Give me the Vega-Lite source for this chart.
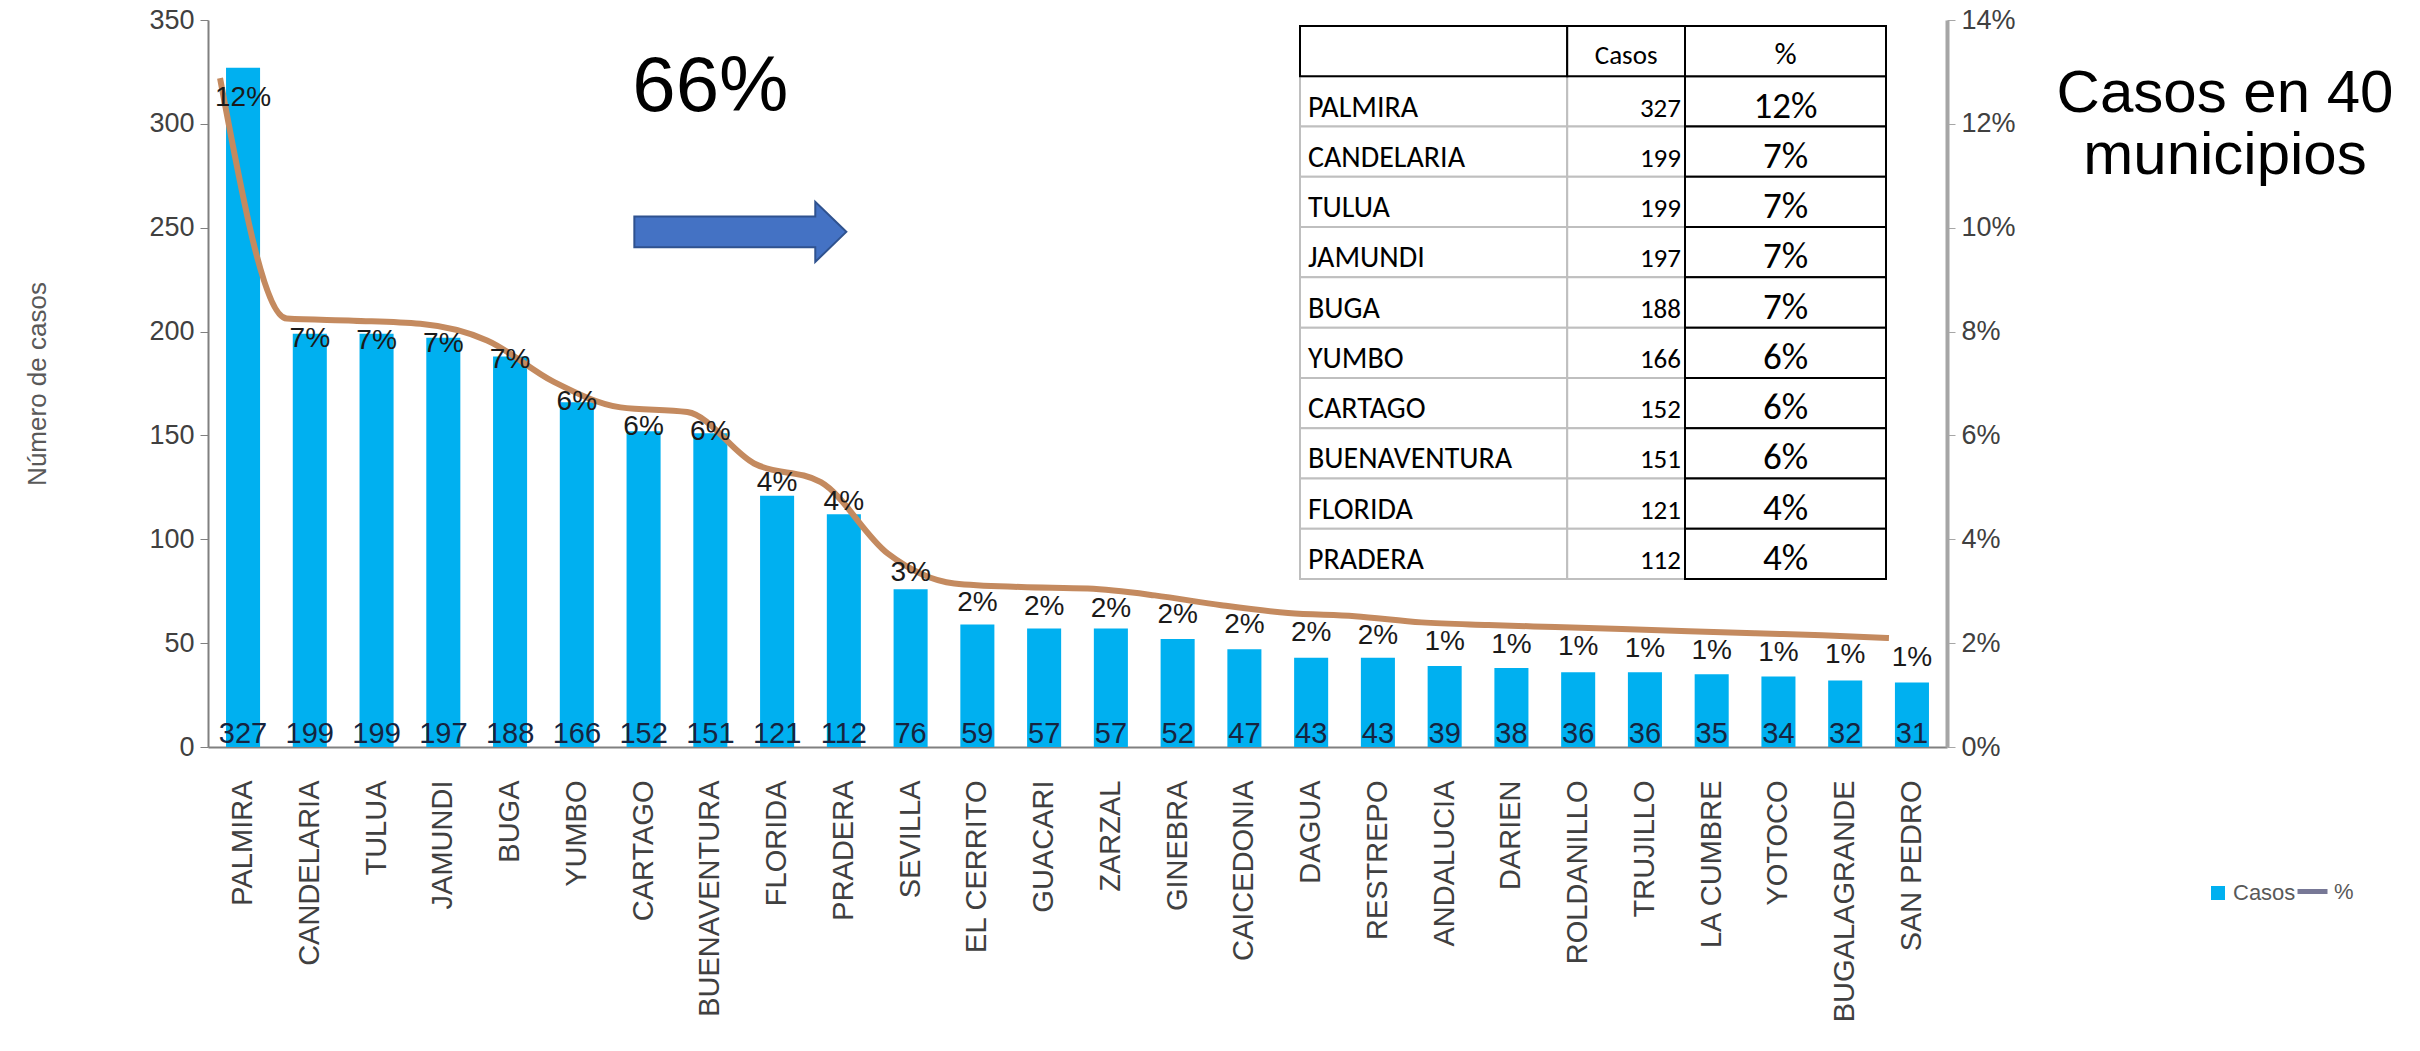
{
  "$schema": "https://vega.github.io/schema/vega-lite/v6.json",
  "width": 1739,
  "height": 727,
  "autosize": "none",
  "padding": {"left": 208, "top": 20, "right": 473, "bottom": 304},
  "background": "#ffffff",
  "config": {
    "view": {"stroke": null},
    "font": "Liberation Sans",
    "axis": {"grid": false},
    "legend": {"labelFont": "Liberation Sans"}
  },
  "title": {
    "text": ["Casos en 40", "municipios"],
    "anchor": "end",
    "frame": "group",
    "align": "center",
    "baseline": "top",
    "dx": 278,
    "dy": 181,
    "offset": 0,
    "fontSize": 60,
    "fontWeight": "normal",
    "font": "Liberation Sans",
    "lineHeight": 62,
    "color": "#000000"
  },
  "datasets": {
    "muni": [
      {"municipio": "PALMIRA", "casos": 327, "pct": 0.12, "linea": 0.1288},
      {"municipio": "CANDELARIA", "casos": 199, "pct": 0.07, "linea": 0.0825},
      {"municipio": "TULUA", "casos": 199, "pct": 0.07, "linea": 0.0821},
      {"municipio": "JAMUNDI", "casos": 197, "pct": 0.07, "linea": 0.0815},
      {"municipio": "BUGA", "casos": 188, "pct": 0.07, "linea": 0.0783},
      {"municipio": "YUMBO", "casos": 166, "pct": 0.06, "linea": 0.0703},
      {"municipio": "CARTAGO", "casos": 152, "pct": 0.06, "linea": 0.0654},
      {"municipio": "BUENAVENTURA", "casos": 151, "pct": 0.06, "linea": 0.0645},
      {"municipio": "FLORIDA", "casos": 121, "pct": 0.04, "linea": 0.0546},
      {"municipio": "PRADERA", "casos": 112, "pct": 0.04, "linea": 0.051},
      {"municipio": "SEVILLA", "casos": 76, "pct": 0.03, "linea": 0.0373},
      {"municipio": "EL CERRITO", "casos": 59, "pct": 0.02, "linea": 0.0315},
      {"municipio": "GUACARI", "casos": 57, "pct": 0.02, "linea": 0.0308},
      {"municipio": "ZARZAL", "casos": 57, "pct": 0.02, "linea": 0.0305},
      {"municipio": "GINEBRA", "casos": 52, "pct": 0.02, "linea": 0.0292},
      {"municipio": "CAICEDONIA", "casos": 47, "pct": 0.02, "linea": 0.0273},
      {"municipio": "DAGUA", "casos": 43, "pct": 0.02, "linea": 0.0258},
      {"municipio": "RESTREPO", "casos": 43, "pct": 0.02, "linea": 0.0252},
      {"municipio": "ANDALUCIA", "casos": 39, "pct": 0.01, "linea": 0.024},
      {"municipio": "DARIEN", "casos": 38, "pct": 0.01, "linea": 0.0235},
      {"municipio": "ROLDANILLO", "casos": 36, "pct": 0.01, "linea": 0.0231},
      {"municipio": "TRUJILLO", "casos": 36, "pct": 0.01, "linea": 0.0227},
      {"municipio": "LA CUMBRE", "casos": 35, "pct": 0.01, "linea": 0.0223},
      {"municipio": "YOTOCO", "casos": 34, "pct": 0.01, "linea": 0.0219},
      {"municipio": "BUGALAGRANDE", "casos": 32, "pct": 0.01, "linea": 0.0215},
      {"municipio": "SAN PEDRO", "casos": 31, "pct": 0.01, "linea": 0.021}
    ],
    "tabla": [
      {"municipio": "PALMIRA", "casos": 327, "pct": 0.12},
      {"municipio": "CANDELARIA", "casos": 199, "pct": 0.07},
      {"municipio": "TULUA", "casos": 199, "pct": 0.07},
      {"municipio": "JAMUNDI", "casos": 197, "pct": 0.07},
      {"municipio": "BUGA", "casos": 188, "pct": 0.07},
      {"municipio": "YUMBO", "casos": 166, "pct": 0.06},
      {"municipio": "CARTAGO", "casos": 152, "pct": 0.06},
      {"municipio": "BUENAVENTURA", "casos": 151, "pct": 0.06},
      {"municipio": "FLORIDA", "casos": 121, "pct": 0.04},
      {"municipio": "PRADERA", "casos": 112, "pct": 0.04}
    ]
  },
  "layer": [
    {
      "layer": [
        {
          "data": {"name": "muni"},
          "layer": [
            {
              "mark": {"type": "bar"},
              "encoding": {
                "x": {
                  "field": "municipio", "type": "nominal", "sort": null, "title": null,
                  "scale": {
                    "domain": ["PALMIRA","CANDELARIA","TULUA","JAMUNDI","BUGA","YUMBO","CARTAGO","BUENAVENTURA","FLORIDA","PRADERA","SEVILLA","EL CERRITO","GUACARI","ZARZAL","GINEBRA","CAICEDONIA","DAGUA","RESTREPO","ANDALUCIA","DARIEN","ROLDANILLO","TRUJILLO","LA CUMBRE","YOTOCO","BUGALAGRANDE","SAN PEDRO"],
                    "paddingInner": 0.49, "paddingOuter": 0.27
                  },
                  "axis": {
                    "labelAngle": -90, "labelFontSize": 29, "labelColor": "#404040",
                    "labelPadding": 33, "labelLimit": 0, "ticks": false, "domainColor": "#808080", "domainWidth": 2,
                    "labelFont": "Liberation Sans"
                  }
                },
                "y": {
                  "field": "casos", "type": "quantitative",
                  "scale": {"domain": [0, 350], "nice": false},
                  "axis": {
                    "values": [0, 50, 100, 150, 200, 250, 300, 350],
                    "title": "Número de casos", "titleFontSize": 26, "titleFontWeight": "normal",
                    "titleColor": "#595959", "titlePadding": 98, "titleFont": "Liberation Sans",
                    "labelFontSize": 27, "labelColor": "#404040", "labelPadding": 6,
                    "tickSize": 8, "tickColor": "#808080", "domainColor": "#808080", "domainWidth": 2
                  }
                },
                "fill": {
                  "datum": "Casos",
                  "scale": {"range": ["#00B0F0"]},
                  "legend": {
                    "orient": "none", "legendX": 1999, "legendY": 862, "title": null,
                    "symbolType": "square", "symbolSize": 196, "symbolStrokeWidth": 0,
                    "labelFontSize": 22, "labelColor": "#595959"
                  }
                }
              }
            },
            {
              "mark": {"type": "text", "baseline": "alphabetic", "dy": -4, "fontSize": 29, "color": "#16243F"},
              "encoding": {
                "x": {"field": "municipio", "type": "nominal", "sort": null},
                "y": {"datum": 0, "type": "quantitative"},
                "text": {"field": "casos", "type": "quantitative"}
              }
            },
            {
              "data": {"values": [{}]},
              "mark": {"type": "text", "fontSize": 78, "baseline": "alphabetic", "align": "center", "color": "#000000"},
              "encoding": {
                "x": {"datum": "BUENAVENTURA", "type": "nominal"},
                "y": {"datum": 306, "type": "quantitative"},
                "text": {"value": "66%"}
              }
            },
            {
              "data": {"values": [{}]},
              "mark": {
                "type": "point",
                "shape": "M-0.717,-0.146 L0.99,-0.146 L0.99,-0.283 L1.283,0 L0.99,0.283 L0.99,0.146 L-0.717,0.146 Z",
                "size": 44944, "filled": true, "fill": "#4472C4", "stroke": "#2F528F", "strokeWidth": 2, "opacity": 1
              },
              "encoding": {
                "x": {"datum": "BUENAVENTURA", "type": "nominal"},
                "y": {"datum": 248, "type": "quantitative"}
              }
            }
          ]
        },
        {
          "data": {"name": "muni"},
          "layer": [
            {
              "mark": {"type": "line", "stroke": "#C48A5F", "strokeWidth": 6, "interpolate": "monotone", "xOffset": -23},
              "encoding": {
                "x": {"field": "municipio", "type": "nominal", "sort": null},
                "y": {
                  "field": "linea", "type": "quantitative",
                  "scale": {"domain": [0, 0.14], "nice": false},
                  "axis": {
                    "orient": "right", "format": ".0%", "title": null,
                    "values": [0, 0.02, 0.04, 0.06, 0.08, 0.1, 0.12, 0.14],
                    "labelFontSize": 27, "labelColor": "#404040", "labelPadding": 6,
                    "tickSize": 8, "tickColor": "#A6A6A6", "domainColor": "#A6A6A6", "domainWidth": 4
                  }
                },
                "color": {
                  "datum": "%",
                  "scale": {"range": ["#777896"]},
                  "legend": {
                    "orient": "none", "legendX": 2087, "legendY": 854, "title": null,
                    "symbolType": "stroke", "symbolSize": 900, "symbolStrokeWidth": 5,
                    "labelFontSize": 22, "labelColor": "#595959"
                  }
                }
              }
            },
            {
              "mark": {"type": "text", "baseline": "middle", "dy": 20, "fontSize": 28, "color": "#1A1A1A"},
              "encoding": {
                "x": {"field": "municipio", "type": "nominal", "sort": null},
                "y": {"field": "linea", "type": "quantitative"},
                "text": {"field": "pct", "type": "quantitative", "format": ".0%"}
              }
            }
          ]
        }
      ],
      "resolve": {"scale": {"y": "independent"}}
    },
    {
      "layer": [
        {
          "data": {"name": "tabla"},
          "mark": {"type": "rect", "fill": "#ffffff", "stroke": "#BFBFBF", "strokeWidth": 2},
          "encoding": {
            "x": {"datum": 0, "type": "quantitative", "scale": {"domain": [0, 1], "range": [1092, 1678]}, "axis": null},
            "x2": {"datum": 0.456},
            "y": {
              "field": "municipio", "type": "nominal", "axis": null,
              "scale": {
                "domain": ["encabezado","PALMIRA","CANDELARIA","TULUA","JAMUNDI","BUGA","YUMBO","CARTAGO","BUENAVENTURA","FLORIDA","PRADERA"],
                "range": [6, 559], "paddingInner": 0, "paddingOuter": 0
              }
            }
          }
        },
        {
          "data": {"name": "tabla"},
          "mark": {"type": "rect", "fill": "#ffffff", "stroke": "#BFBFBF", "strokeWidth": 2},
          "encoding": {
            "x": {"datum": 0.456, "type": "quantitative"},
            "x2": {"datum": 0.657},
            "y": {"field": "municipio", "type": "nominal"}
          }
        },
        {
          "data": {"name": "tabla"},
          "mark": {"type": "rect", "fill": "#ffffff", "stroke": "#000000", "strokeWidth": 2},
          "encoding": {
            "x": {"datum": 0.657, "type": "quantitative"},
            "x2": {"datum": 1},
            "y": {"field": "municipio", "type": "nominal"}
          }
        },
        {
          "data": {"values": [{}]},
          "mark": {"type": "rect", "fill": "#ffffff", "stroke": "#000000", "strokeWidth": 2},
          "encoding": {
            "x": {"datum": 0, "type": "quantitative"},
            "x2": {"datum": 0.456},
            "y": {"datum": "encabezado", "type": "nominal"}
          }
        },
        {
          "data": {"values": [{}]},
          "mark": {"type": "rect", "fill": "#ffffff", "stroke": "#000000", "strokeWidth": 2},
          "encoding": {
            "x": {"datum": 0.456, "type": "quantitative"},
            "x2": {"datum": 0.657},
            "y": {"datum": "encabezado", "type": "nominal"}
          }
        },
        {
          "data": {"values": [{}]},
          "mark": {"type": "rect", "fill": "#ffffff", "stroke": "#000000", "strokeWidth": 2},
          "encoding": {
            "x": {"datum": 0.657, "type": "quantitative"},
            "x2": {"datum": 1},
            "y": {"datum": "encabezado", "type": "nominal"}
          }
        },
        {
          "data": {"name": "tabla"},
          "mark": {"type": "text", "align": "left", "baseline": "alphabetic", "dx": 8, "dy": -10, "fontSize": 30, "font": "Carlito, Lato, sans-serif", "color": "#000000"},
          "encoding": {
            "x": {"datum": 0, "type": "quantitative"},
            "y": {"field": "municipio", "type": "nominal", "bandPosition": 1},
            "text": {"field": "municipio", "type": "nominal"}
          }
        },
        {
          "data": {"name": "tabla"},
          "mark": {"type": "text", "align": "right", "baseline": "alphabetic", "dx": -4, "dy": -10, "fontSize": 27, "font": "Carlito, Lato, sans-serif", "color": "#000000"},
          "encoding": {
            "x": {"datum": 0.657, "type": "quantitative"},
            "y": {"field": "municipio", "type": "nominal", "bandPosition": 1},
            "text": {"field": "casos", "type": "quantitative"}
          }
        },
        {
          "data": {"name": "tabla"},
          "mark": {"type": "text", "align": "center", "baseline": "alphabetic", "dy": -9, "fontSize": 37, "font": "Carlito, Lato, sans-serif", "color": "#000000"},
          "encoding": {
            "x": {"datum": 0.8285, "type": "quantitative"},
            "y": {"field": "municipio", "type": "nominal", "bandPosition": 1},
            "text": {"field": "pct", "type": "quantitative", "format": ".0%"}
          }
        },
        {
          "data": {"values": [{}]},
          "mark": {"type": "text", "align": "center", "baseline": "alphabetic", "dy": -12, "fontSize": 27, "font": "Carlito, Lato, sans-serif", "color": "#000000"},
          "encoding": {
            "x": {"datum": 0.5565, "type": "quantitative"},
            "y": {"datum": "encabezado", "type": "nominal", "bandPosition": 1},
            "text": {"value": "Casos"}
          }
        },
        {
          "data": {"values": [{}]},
          "mark": {"type": "text", "align": "center", "baseline": "alphabetic", "dy": -12, "fontSize": 31, "font": "Carlito, Lato, sans-serif", "color": "#000000"},
          "encoding": {
            "x": {"datum": 0.8285, "type": "quantitative"},
            "y": {"datum": "encabezado", "type": "nominal", "bandPosition": 1},
            "text": {"value": "%"}
          }
        }
      ]
    }
  ],
  "resolve": {"scale": {"x": "independent", "y": "independent"}}
}
